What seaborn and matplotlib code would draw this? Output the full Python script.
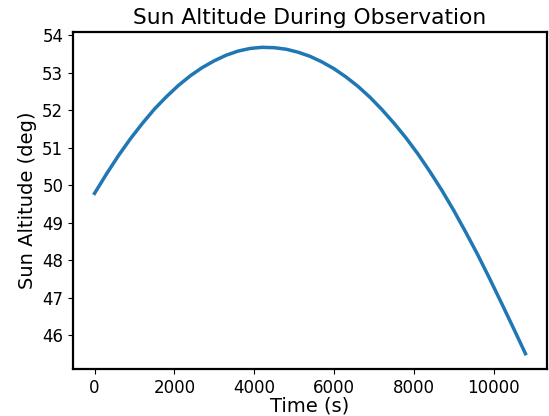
import matplotlib
matplotlib.use("Agg")
import matplotlib.pyplot as plt
import seaborn as sns
import pandas as pd

time_s = [0, 300, 600, 900, 1200, 1500, 1800, 2100, 2400, 2700, 3000, 3300,
          3600, 3900, 4200, 4500, 4800, 5100, 5400, 5700, 6000, 6300, 6600,
          6900, 7200, 7500, 7800, 8100, 8400, 8700, 9000, 9300, 9600, 9900,
          10200, 10500, 10800]
altitude_deg = [49.78, 50.30, 50.79, 51.24, 51.65, 52.03, 52.36, 52.66, 52.92,
                53.14, 53.32, 53.47, 53.58, 53.65, 53.68, 53.67, 53.63, 53.55,
                53.44, 53.29, 53.11, 52.89, 52.64, 52.35, 52.02, 51.66, 51.27,
                50.84, 50.37, 49.87, 49.33, 48.75, 48.15, 47.51, 46.85, 46.18,
                45.50]

df = pd.DataFrame({"t": time_s, "alt": altitude_deg})

fig = plt.figure(figsize=(5.49, 4.16), dpi=100)
ax = fig.add_axes([73 / 549, (416 - 369) / 416, (547 - 73) / 549, (369 - 32) / 416])
sns.lineplot(data=df, x="t", y="alt", ax=ax, color="#1f77b4", linewidth=2.5)
ax.set_title("Sun Altitude During Observation", fontsize=15.7)
ax.set_xlabel("Time (s)", fontsize=14, labelpad=0)
ax.set_ylabel("Sun Altitude (deg)", fontsize=14)
ax.tick_params(labelsize=12)
for s in ax.spines.values():
    s.set_linewidth(1.6)
fig.savefig("out.png", dpi=100)
